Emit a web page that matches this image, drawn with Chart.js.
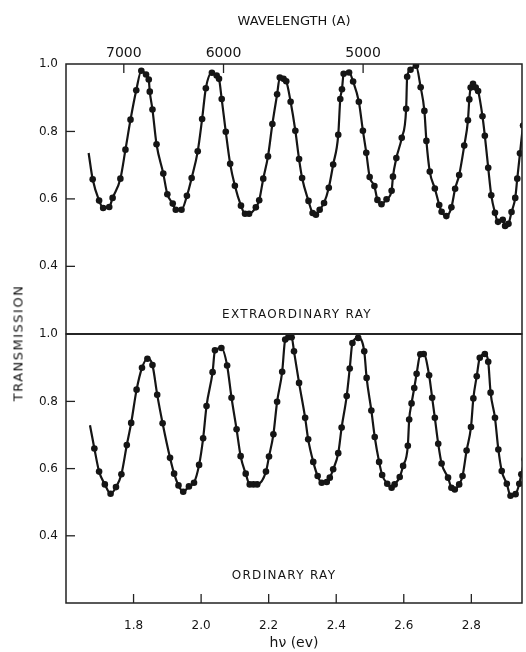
<!DOCTYPE html>
<html>
<head>
<meta charset="utf-8">
<title>Transmission</title>
<script src="https://cdn.jsdelivr.net/npm/chart.js@4"></script>
<style>
  body { margin: 0; background: #fff; width: 526px; height: 652px; overflow: hidden; position: relative; font-family: "DejaVu Sans", sans-serif; }
  #topBox { position: absolute; left: 0; top: 0; }
  #botBox { position: absolute; left: 0; top: 319px; }
  canvas { display: block; }
  #yTitle { position: absolute; left: 18px; top: 343px; transform: translate(-50%, -50%) rotate(-90deg); font-size: 13px; letter-spacing: 1.5px; color: #111; white-space: nowrap; }
</style>
</head>
<body>
<div id="topBox"><canvas id="extChart" width="526" height="349"></canvas></div>
<div id="botBox"><canvas id="ordChart" width="526" height="333"></canvas></div>
<div id="yTitle">TRANSMISSION</div>
<script>
// photon energy (eV) and transmission
const extEnergy = [1.667, 1.679, 1.698, 1.710, 1.728, 1.738, 1.761, 1.776, 1.791, 1.808, 1.823, 1.837, 1.845, 1.848, 1.856, 1.868, 1.888, 1.900, 1.916, 1.925, 1.942, 1.958, 1.972, 1.990, 2.003, 2.014, 2.032, 2.046, 2.053, 2.061, 2.073, 2.086, 2.100, 2.118, 2.130, 2.142, 2.162, 2.172, 2.184, 2.198, 2.211, 2.225, 2.233, 2.244, 2.252, 2.265, 2.279, 2.290, 2.299, 2.318, 2.330, 2.340, 2.351, 2.364, 2.378, 2.391, 2.406, 2.412, 2.417, 2.422, 2.438, 2.450, 2.467, 2.479, 2.489, 2.499, 2.513, 2.522, 2.534, 2.549, 2.564, 2.568, 2.578, 2.594, 2.607, 2.610, 2.620, 2.636, 2.650, 2.661, 2.667, 2.677, 2.692, 2.705, 2.712, 2.726, 2.741, 2.752, 2.764, 2.779, 2.790, 2.794, 2.798, 2.805, 2.813, 2.820, 2.833, 2.840, 2.850, 2.859, 2.870, 2.879, 2.893, 2.900, 2.910, 2.919, 2.930, 2.936, 2.944, 2.953];
const extTrans = [0.736, 0.658, 0.595, 0.573, 0.576, 0.603, 0.660, 0.746, 0.835, 0.922, 0.980, 0.969, 0.954, 0.918, 0.865, 0.762, 0.675, 0.614, 0.586, 0.568, 0.568, 0.609, 0.662, 0.741, 0.837, 0.928, 0.974, 0.966, 0.956, 0.896, 0.799, 0.704, 0.639, 0.580, 0.556, 0.556, 0.575, 0.596, 0.660, 0.726, 0.822, 0.910, 0.960, 0.956, 0.949, 0.888, 0.802, 0.718, 0.662, 0.594, 0.558, 0.553, 0.568, 0.588, 0.633, 0.702, 0.790, 0.896, 0.925, 0.971, 0.975, 0.948, 0.888, 0.802, 0.737, 0.665, 0.638, 0.597, 0.584, 0.599, 0.624, 0.666, 0.721, 0.781, 0.867, 0.962, 0.983, 0.995, 0.931, 0.861, 0.772, 0.681, 0.631, 0.582, 0.562, 0.549, 0.575, 0.630, 0.671, 0.758, 0.833, 0.895, 0.930, 0.941, 0.930, 0.920, 0.845, 0.787, 0.692, 0.611, 0.559, 0.532, 0.538, 0.520, 0.526, 0.561, 0.603, 0.660, 0.735, 0.818];

const ordEnergy = [1.671, 1.684, 1.698, 1.715, 1.732, 1.748, 1.764, 1.780, 1.793, 1.809, 1.825, 1.841, 1.856, 1.870, 1.886, 1.908, 1.920, 1.933, 1.947, 1.964, 1.979, 1.994, 2.006, 2.016, 2.034, 2.041, 2.060, 2.077, 2.090, 2.105, 2.117, 2.132, 2.144, 2.155, 2.166, 2.192, 2.201, 2.214, 2.225, 2.240, 2.249, 2.258, 2.268, 2.275, 2.290, 2.308, 2.317, 2.332, 2.345, 2.357, 2.372, 2.381, 2.391, 2.406, 2.416, 2.431, 2.440, 2.448, 2.465, 2.483, 2.490, 2.504, 2.514, 2.527, 2.536, 2.551, 2.564, 2.573, 2.588, 2.598, 2.612, 2.616, 2.623, 2.631, 2.638, 2.649, 2.659, 2.675, 2.684, 2.692, 2.702, 2.712, 2.731, 2.741, 2.751, 2.764, 2.774, 2.786, 2.799, 2.806, 2.816, 2.825, 2.840, 2.850, 2.857, 2.870, 2.880, 2.890, 2.905, 2.916, 2.931, 2.942, 2.948, 2.958];
const ordTrans = [0.729, 0.660, 0.591, 0.553, 0.525, 0.545, 0.583, 0.670, 0.736, 0.835, 0.900, 0.927, 0.908, 0.820, 0.735, 0.632, 0.585, 0.550, 0.531, 0.547, 0.558, 0.611, 0.690, 0.786, 0.887, 0.952, 0.959, 0.907, 0.811, 0.717, 0.637, 0.585, 0.553, 0.553, 0.553, 0.591, 0.636, 0.702, 0.799, 0.888, 0.984, 0.991, 0.991, 0.949, 0.855, 0.751, 0.687, 0.620, 0.578, 0.558, 0.560, 0.573, 0.598, 0.646, 0.722, 0.816, 0.898, 0.974, 0.989, 0.949, 0.870, 0.773, 0.694, 0.620, 0.581, 0.555, 0.543, 0.553, 0.575, 0.608, 0.668, 0.746, 0.794, 0.840, 0.882, 0.940, 0.941, 0.878, 0.811, 0.751, 0.674, 0.615, 0.573, 0.543, 0.538, 0.553, 0.578, 0.654, 0.724, 0.809, 0.875, 0.930, 0.941, 0.918, 0.826, 0.751, 0.657, 0.593, 0.555, 0.519, 0.524, 0.555, 0.583, 0.628];

const xTickValues = [1.8, 2.0, 2.2, 2.4, 2.6, 2.8];
const yTickValues = [0.2, 0.4, 0.6, 0.8, 1.0];
const wavelengthTicks = [7000, 6000, 5000];   // angstrom
const HC = 12398;                              // eV * angstrom
const X_MIN = 1.6, X_MAX = 2.95;

const INK = '#151515';

const extPoints = extEnergy.map((e, i) => ({ x: e, y: extTrans[i] }));
const ordPoints = ordEnergy.map((e, i) => ({ x: e, y: ordTrans[i] }));

// frame, inward tick marks and panel caption
const framePlugin = {
    id: 'frame',
    afterDraw(chart, args, opts) {
        const { ctx, chartArea: a } = chart;
        ctx.save();
        ctx.strokeStyle = '#222';
        ctx.lineWidth = 1.5;
        ctx.strokeRect(a.left, a.top, a.right - a.left, a.bottom - a.top);
        ctx.lineWidth = 1.3;
        Object.values(chart.scales).forEach(s => {
            if (!s.options.display) return;
            s.ticks.forEach(t => {
                if (t.value <= s.min || t.value >= s.max) return;
                const p = s.getPixelForValue(t.value);
                ctx.beginPath();
                if (s.axis === 'y') {
                    ctx.moveTo(a.left, p); ctx.lineTo(a.left + 9, p);
                } else if (s.position === 'top') {
                    ctx.moveTo(p, a.top); ctx.lineTo(p, a.top + 9);
                } else {
                    ctx.moveTo(p, a.bottom); ctx.lineTo(p, a.bottom - 9);
                }
                ctx.stroke();
            });
        });
        if (opts.label) {
            ctx.fillStyle = INK;
            ctx.font = '12px "DejaVu Sans"';
            ctx.letterSpacing = '1.3px';
            ctx.textAlign = 'center';
            ctx.textBaseline = 'middle';
            ctx.fillText(opts.label, opts.x, a.bottom - opts.up);
        }
        ctx.restore();
    }
};

function lineDataset(points) {
    return {
        data: points,
        borderColor: INK,
        borderWidth: 2.2,
        backgroundColor: INK,
        pointBackgroundColor: INK,
        pointBorderColor: INK,
        pointBorderWidth: 0,
        pointRadius: ctx => ctx.dataIndex === 0 ? 0 : 3.3,
        cubicInterpolationMode: 'monotone',
        fill: false
    };
}

function yScale() {
    return {
        type: 'linear',
        min: 0.2,
        max: 1.0,
        grid: { display: false, drawTicks: false },
        border: { display: false },
        afterBuildTicks: s => { s.ticks = yTickValues.map(v => ({ value: v })); },
        ticks: {
            color: INK,
            font: { family: 'DejaVu Sans', size: 12 },
            padding: 8,
            callback: v => v < 0.3 ? '' : v.toFixed(1)
        },
        afterFit: s => { s.width = 66; }
    };
}

new Chart(document.getElementById('extChart'), {
    type: 'line',
    data: { datasets: [lineDataset(extPoints)] },
    options: {
        responsive: false,
        animation: false,
        events: [],
        layout: { padding: { top: 0, right: 4, bottom: 1, left: 0 } },
        plugins: {
            legend: { display: false },
            tooltip: { enabled: false },
            frame: { label: 'EXTRAORDINARY RAY', x: 297, up: 19 }
        },
        scales: {
            x: { type: 'linear', min: X_MIN, max: X_MAX, display: false },
            xTop: {
                type: 'linear',
                axis: 'x',
                position: 'top',
                min: X_MIN,
                max: X_MAX,
                grid: { display: false, drawTicks: false },
                border: { display: false },
                afterBuildTicks: s => { s.ticks = wavelengthTicks.map(w => ({ value: HC / w })); },
                ticks: {
                    color: INK,
                    font: { family: 'DejaVu Sans', size: 14 },
                    padding: 2,
                    maxRotation: 0,
                    autoSkip: false,
                    callback: v => String(Math.round(HC / v / 10) * 10)
                },
                title: {
                    display: true,
                    text: 'WAVELENGTH (A)',
                    color: INK,
                    font: { family: 'DejaVu Sans', size: 13 },
                    padding: { top: 14, bottom: 0 }
                },
                afterFit: s => { s.height = 64; }
            },
            y: yScale()
        }
    },
    plugins: [framePlugin]
});

new Chart(document.getElementById('ordChart'), {
    type: 'line',
    data: { datasets: [lineDataset(ordPoints)] },
    options: {
        responsive: false,
        animation: false,
        events: [],
        layout: { padding: { top: 10, right: 4, bottom: 0, left: 0 } },
        plugins: {
            legend: { display: false },
            tooltip: { enabled: false },
            frame: { label: 'ORDINARY RAY', x: 284, up: 27 }
        },
        scales: {
            x: {
                type: 'linear',
                min: X_MIN,
                max: X_MAX,
                grid: { display: false, drawTicks: false },
                border: { display: false },
                afterBuildTicks: s => { s.ticks = xTickValues.map(v => ({ value: v })); },
                ticks: {
                    color: INK,
                    font: { family: 'DejaVu Sans', size: 12 },
                    padding: 16,
                    maxRotation: 0,
                    autoSkip: false,
                    callback: v => v.toFixed(1)
                },
                title: {
                    display: true,
                    text: 'hν (ev)',
                    color: INK,
                    font: { family: 'DejaVu Sans', size: 14 },
                    padding: { top: 0, bottom: 0 }
                },
                afterFit: s => { s.height = 49; }
            },
            y: yScale()
        }
    },
    plugins: [framePlugin]
});
</script>
</body>
</html>
